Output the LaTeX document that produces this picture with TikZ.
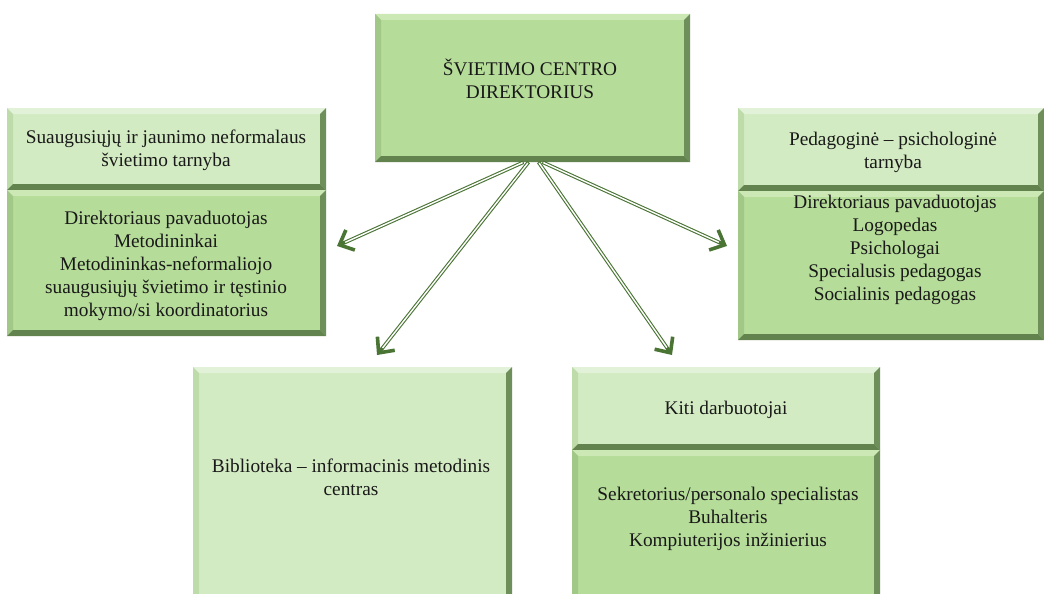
\documentclass[tikz,border=0pt]{standalone}
\usepackage{fontspec}
\setmainfont{Liberation Serif}
\usetikzlibrary{arrows.meta,calc}
\definecolor{midfill}{HTML}{B5DC98}
\definecolor{lightfill}{HTML}{D3EBC2}
\definecolor{facettop}{HTML}{CBE8B5}
\definecolor{facettopl}{HTML}{E2F2D8}
\definecolor{facetleft}{HTML}{A2C888}
\definecolor{facetleftl}{HTML}{BEDCA9}
\definecolor{facetright}{HTML}{6E8F5A}
\definecolor{facetbottom}{HTML}{62834E}
\definecolor{arrowgreen}{HTML}{4A7434}
\newcommand{\bevw}{6pt}
\tikzset{
  bevelfacets/.style 2 args={path picture={
    \path (path picture bounding box.north west) coordinate (PNW)
          (path picture bounding box.north east) coordinate (PNE)
          (path picture bounding box.south west) coordinate (PSW)
          (path picture bounding box.south east) coordinate (PSE);
    \fill[#1] (PNW) -- (PNE) -- ([shift={(-\bevw,-\bevw)}]PNE) -- ([shift={(\bevw,-\bevw)}]PNW) -- cycle;
    \fill[#2] (PNW) -- ([shift={(\bevw,-\bevw)}]PNW) -- ([shift={(\bevw,\bevw)}]PSW) -- (PSW) -- cycle;
    \fill[facetright] (PNE) -- (PSE) -- ([shift={(-\bevw,\bevw)}]PSE) -- ([shift={(-\bevw,-\bevw)}]PNE) -- cycle;
    \fill[facetbottom] (PSW) -- ([shift={(\bevw,\bevw)}]PSW) -- ([shift={(-\bevw,\bevw)}]PSE) -- (PSE) -- cycle;
  }},
  darkbox/.style 2 args={rectangle, inner sep=0pt, fill=midfill,
    minimum width=#1, minimum height=#2, bevelfacets={facettop}{facetleft}},
  lightbox/.style 2 args={rectangle, inner sep=0pt, fill=lightfill,
    minimum width=#1, minimum height=#2, bevelfacets={facettopl}{facetleftl}},
  label text/.style={align=center, inner sep=0pt, text=black!90,
    font=\fontsize{19.3}{23}\selectfont},
  arrowshaft/.style={draw=arrowgreen, line width=3.6pt,
    -{Straight Barb[length=12pt,width=22pt,line width=3.6pt]}},
  arrowcore/.style={draw=white, line width=1.4pt, shorten >=9pt, shorten <=1pt},
}
\begin{document}
\begin{tikzpicture}[x=1pt,y=1pt]
\useasboundingbox (0,0) rectangle (1044,-594);
\fill[white] (0,0) rectangle (1044,-594);
\clip (0,0) rectangle (1044,-594);

% boxes
\node[darkbox={315pt}{148pt}] (top) at (532.5,-88) {};
\node[lightbox={319pt}{82pt}] (lhead) at (166.5,-149) {};
\node[darkbox={319pt}{146pt}] (lbody) at (166.5,-263) {};
\node[lightbox={306pt}{83pt}] (rhead) at (891,-149.5) {};
\node[darkbox={306pt}{149pt}] (rbody) at (891,-265.5) {};
\node[lightbox={319pt}{240pt}] (lib) at (352.5,-487) {};
\node[lightbox={308pt}{83pt}] (ohead) at (726,-408.5) {};
\node[darkbox={308pt}{156pt}] (obody) at (726,-528) {};

% texts
\node[label text] (ttop) at (530,-79) {ŠVIETIMO CENTRO\\DIREKTORIUS};
\node[label text] (tlhead) at (166,-150) {Suaugusiųjų ir jaunimo neformalaus\\švietimo tarnyba};
\node[label text] (tlbody) at (166,-266) {Direktoriaus pavaduotojas\\Metodininkai\\Metodininkas-neformaliojo\\suaugusiųjų švietimo ir tęstinio\\mokymo/si koordinatorius};
\node[label text] (trhead) at (893,-152) {Pedagoginė – psichologinė\\tarnyba};
\node[label text] (trbody) at (895,-250) {Direktoriaus pavaduotojas\\Logopedas\\Psichologai\\Specialusis pedagogas\\Socialinis pedagogas};
\node[label text] (tlib) at (351,-477) {Biblioteka – informacinis metodinis\\centras};
\node[label text] (tohead) at (726,-410) {Kiti darbuotojai};
\node[label text] (tobody) at (728,-519) {Sekretorius/personalo specialistas\\Buhalteris\\Kompiuterijos inžinierius};

% arrow ends
\coordinate (s1) at ([xshift=-9pt]top.south);
\coordinate (s2) at ([xshift=-4pt]top.south);
\coordinate (s3) at ([xshift=6pt]top.south);
\coordinate (s4) at ([xshift=10pt]top.south);
\coordinate (e1) at (337,-246);
\coordinate (e2) at (377,-355);
\coordinate (e3) at (672,-355);
\coordinate (e4) at (727,-246);

\foreach \a/\b in {s1/e1,s2/e2,s3/e3,s4/e4}{
  \draw[arrowshaft] (\a) -- (\b);
  \draw[arrowcore] (\a) -- (\b);
}
\end{tikzpicture}
\end{document}
